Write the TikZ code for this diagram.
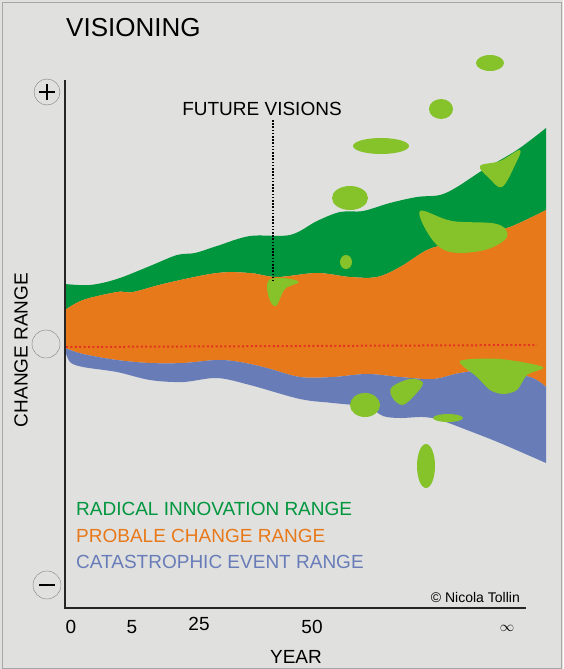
\documentclass[tikz,border=0pt]{standalone}
\usepackage{fontspec}
\setmainfont{Liberation Sans}
\usetikzlibrary{calc}
\definecolor{bggray}{RGB}{224,224,223}
\definecolor{radgreen}{RGB}{0,150,62}
\definecolor{proborange}{RGB}{232,121,26}
\definecolor{catblue}{RGB}{104,124,184}
\definecolor{visgreen}{RGB}{134,194,42}
\definecolor{dotred}{RGB}{226,52,30}
\begin{document}
\begin{tikzpicture}[x=1pt, y=-1pt, band/.style={smooth, tension=0.55}, vision/.style={fill=visgreen}, txt/.style={inner sep=0pt, font=\fontsize{19}{22}\selectfont}, sign node/.style={circle, draw=gray, thin, inner sep=0pt}]
\useasboundingbox (0,0) rectangle (563,669);
\fill[bggray] (0,0) rectangle (563,669);
\draw[gray!70, thin] (2,2) rectangle (561,668);

% ranges
\fill[radgreen] plot[band] coordinates {(65,284) (90,285) (117,279) (150,266) (177,255) (195,253) (217,246) (250,236) (290,235) (317,221) (340,212) (363,211) (390,203) (417,197) (440,195) (457,187) (483,170) (517,150) (546,128)}
 -- plot[band] coordinates {(546,210) (510,227) (483,233) (450,243) (427,250) (400,267) (377,277) (350,277) (317,273) (277,277) (250,273) (217,273) (167,283) (133,292) (117,292) (83,300) (65,310)} -- cycle;
\fill[proborange] plot[band] coordinates {(65,310) (83,300) (117,292) (133,292) (167,283) (217,273) (250,273) (277,277) (317,273) (350,277) (377,277) (400,267) (427,250) (450,243) (483,233) (510,227) (546,210)}
 -- plot[band] coordinates {(546,387) (530,377) (490,370) (460,373) (433,379) (400,377) (367,374) (333,377) (300,377) (267,368) (240,362) (217,360) (183,363) (150,363) (117,360) (83,354) (65,348)} -- cycle;
\fill[catblue] plot[band] coordinates {(65,348) (83,354) (117,360) (150,363) (183,363) (217,360) (240,362) (267,368) (300,377) (333,377) (367,374) (400,377) (433,379) (460,373) (490,370) (530,377) (546,387)}
 -- plot[band] coordinates {(546,463) (500,443) (467,430) (440,420) (423,417) (400,418) (383,416) (367,407) (333,403) (300,399) (250,385) (217,378) (183,382) (150,380) (117,372) (83,367) (70,362) (65,350)} -- cycle;

% future visions
\fill[vision] (490,63) ellipse (14 and 8);
\fill[vision] (441,109) ellipse (12 and 10);
\fill[vision] (381,146) ellipse (28 and 8);
\fill[vision] (350,198) ellipse (18 and 12);
\fill[vision] (346,262) ellipse (6 and 7);
\fill[vision] (365,405) ellipse (15 and 12);
\fill[vision] (448,418) ellipse (15 and 4);
\fill[vision] (426,466) ellipse (9 and 22);
\fill[vision] plot[smooth cycle, tension=0.6] coordinates {(268,281) (283,278) (299,282) (285,289) (276,306) (269,298)};
\fill[vision] plot[smooth cycle, tension=0.6] coordinates {(480,166) (500,161) (520,150) (515,165) (502,187) (489,178)};
\fill[vision] plot[smooth cycle, tension=0.6] coordinates {(420,211) (452,221) (497,224) (507,237) (485,250) (450,252) (431,238)};
\fill[vision] plot[smooth cycle, tension=0.6] coordinates {(392,387) (410,379) (423,383) (413,397) (402,405) (392,397)};
\fill[vision] plot[smooth cycle, tension=0.5] coordinates {(460,361) (500,359) (543,367) (527,375) (517,390) (503,394) (490,390) (477,377)};

\draw[dotred, line width=2pt, dash pattern=on 2pt off 2.4pt] (66,347) -- (537,345);

% axes
\coordinate (top) at (65,80);
\coordinate (origin) at (65,608);
\coordinate (end) at (526,608);
\draw[black!85, line width=2pt] (top) -- (origin) -- (end);

\node[sign node, minimum size=26pt] (plus) at (47,92) {};
\draw[line width=2pt] ($(plus)+(-8,0)$) -- ($(plus)+(8,0)$) ($(plus)+(0,-8)$) -- ($(plus)+(0,8)$);
\node[sign node, minimum size=28pt] (zero) at (46,344) {};
\node[sign node, minimum size=28pt] (minus) at (47,585) {};
\draw[line width=2pt] ($(minus)+(-8,0)$) -- ($(minus)+(8,0)$);

\node[txt, font=\fontsize{26}{30}\selectfont, anchor=west] (title) at (66,28) {VISIONING};
\node[txt] (fv) at (262,109) {FUTURE VISIONS};
\coordinate (fvend) at (273,280);
\draw[line width=1.6pt, dash pattern=on 1.6pt off 1.6pt] ($(fv.south -| fvend)+(0,4)$) -- (fvend);
\node[txt, rotate=90] (cr) at (21,350) {CHANGE RANGE};

\node[txt, anchor=west, text=radgreen] (l1) at (76,509) {RADICAL INNOVATION RANGE};
\node[txt, anchor=west, text=proborange] (l2) at (76,536) {PROBALE CHANGE RANGE};
\node[txt, anchor=west, text=catblue] (l3) at (76,562) {CATASTROPHIC EVENT RANGE};
\node[txt, font=\fontsize{14}{16}\selectfont, anchor=east] (copy) at (520,597) {© Nicola Tollin};

\node[txt] (t0) at (71,627) {0};
\node[txt] (t5) at (132,627) {5};
\node[txt] (t25) at (199,624) {25};
\node[txt] (t50) at (312,627) {50};
\node[txt, font=\fontsize{14}{16}\selectfont] (tinf) at (507,628) {$\infty$};
\node[txt] (year) at (296,657) {YEAR};
\end{tikzpicture}
\end{document}
